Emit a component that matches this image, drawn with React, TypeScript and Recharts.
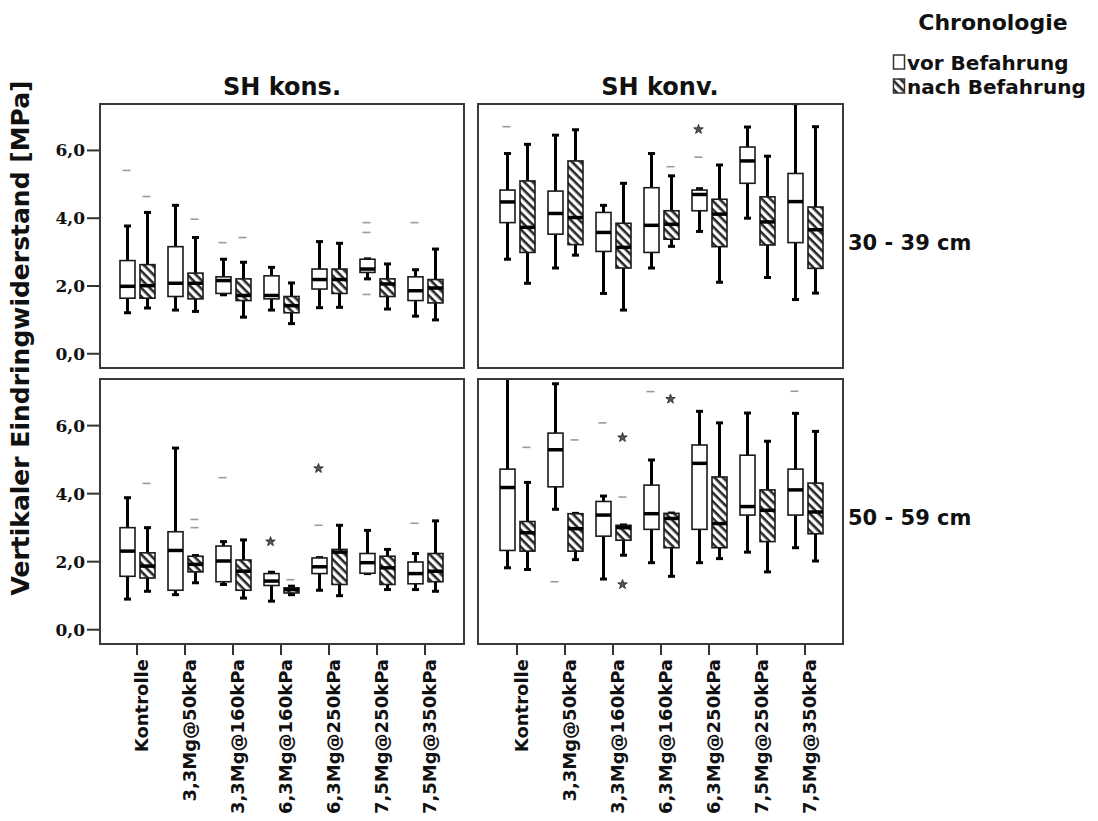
import { ComposedChart, Bar, Scatter, XAxis, YAxis } from 'recharts'

const categories = [
  'Kontrolle',
  '3,3Mg@50kPa',
  '3,3Mg@160kPa',
  '6,3Mg@160kPa',
  '6,3Mg@250kPa',
  '7,5Mg@250kPa',
  '7,5Mg@350kPa',
]
const yTicks = [0, 2, 4, 6]
const yDomain = [-0.42, 7.37]

// [min, q1, median, q3, max] in MPa
const konsTopVor = [
  [1.21, 1.64, 1.99, 2.75, 3.77],
  [1.29, 1.69, 2.08, 3.16, 4.38],
  [1.74, 1.78, 2.16, 2.27, 2.79],
  [1.29, 1.62, 1.72, 2.3, 2.55],
  [1.36, 1.91, 2.19, 2.5, 3.31],
  [2.21, 2.4, 2.5, 2.79, 2.8],
  [1.11, 1.57, 1.86, 2.27, 2.48],
]
const konsTopNach = [
  [1.35, 1.64, 2.01, 2.63, 4.17],
  [1.25, 1.62, 2.08, 2.38, 3.43],
  [1.08, 1.57, 1.72, 2.21, 2.7],
  [0.89, 1.21, 1.42, 1.69, 2.09],
  [1.37, 1.78, 2.19, 2.5, 3.26],
  [1.32, 1.69, 2.06, 2.21, 2.65],
  [1.0, 1.5, 1.94, 2.19, 3.09],
]
const konvTopVor = [
  [2.79, 3.87, 4.48, 4.83, 5.91],
  [2.53, 3.53, 4.14, 4.8, 6.45],
  [1.78, 3.02, 3.58, 4.17, 4.38],
  [2.53, 2.99, 3.79, 4.9, 5.91],
  [3.61, 4.22, 4.7, 4.83, 4.87],
  [4.0, 5.03, 5.69, 6.1, 6.69],
  [1.6, 3.28, 4.49, 5.32, 7.38],
]
const konvTopNach = [
  [2.08, 2.99, 3.73, 5.1, 6.18],
  [2.91, 3.22, 4.02, 5.69, 6.61],
  [1.29, 2.53, 3.14, 3.85, 5.03],
  [3.17, 3.38, 3.82, 4.22, 5.25],
  [2.11, 3.16, 4.12, 4.56, 5.57],
  [2.25, 3.21, 3.89, 4.63, 5.83],
  [1.79, 2.52, 3.66, 4.33, 6.7],
]
const konsBotVor = [
  [0.9, 1.57, 2.31, 3.0, 3.88],
  [1.03, 1.16, 2.33, 2.88, 5.34],
  [1.33, 1.41, 2.02, 2.46, 2.59],
  [0.84, 1.3, 1.43, 1.65, 1.69],
  [1.16, 1.65, 1.85, 2.11, 2.12],
  [1.65, 1.66, 1.97, 2.24, 2.92],
  [1.18, 1.35, 1.65, 1.99, 2.24],
]
const konsBotNach = [
  [1.13, 1.52, 1.87, 2.26, 3.0],
  [1.38, 1.7, 1.92, 2.16, 2.18],
  [0.93, 1.16, 1.72, 2.05, 2.64],
  [1.03, 1.08, 1.18, 1.23, 1.28],
  [1.0, 1.33, 2.28, 2.36, 3.07],
  [1.18, 1.33, 1.82, 2.16, 2.36],
  [1.13, 1.41, 1.72, 2.24, 3.2],
]
const konvBotVor = [
  [1.82, 2.33, 4.18, 4.72, 7.4],
  [3.54, 4.2, 5.29, 5.78, 7.23],
  [1.49, 2.75, 3.37, 3.77, 3.93],
  [1.97, 2.95, 3.41, 4.25, 4.99],
  [1.97, 2.95, 4.89, 5.43, 6.42],
  [2.28, 3.37, 3.62, 5.13, 6.37],
  [2.41, 3.37, 4.11, 4.72, 6.36],
]
const konvBotNach = [
  [1.77, 2.31, 2.85, 3.18, 4.33],
  [2.06, 2.31, 2.97, 3.41, 3.42],
  [2.19, 2.63, 3.0, 3.07, 3.08],
  [1.57, 2.41, 3.27, 3.42, 3.43],
  [2.09, 2.41, 3.12, 4.49, 6.08],
  [1.7, 2.59, 3.51, 4.11, 5.54],
  [2.02, 2.82, 3.46, 4.31, 5.83],
]

// [category index, value, series, kind]  'o' = outlier, '*' = extreme
const konsTopOut = [
  [0, 5.41, 'vor', 'o'], [2, 3.28, 'vor', 'o'], [5, 3.87, 'vor', 'o'], [5, 3.58, 'vor', 'o'],
  [5, 1.75, 'vor', 'o'], [6, 3.87, 'vor', 'o'],
  [0, 4.64, 'nach', 'o'], [1, 3.97, 'nach', 'o'], [2, 3.43, 'nach', 'o'],
]
const konvTopOut = [
  [0, 6.7, 'vor', 'o'], [4, 5.8, 'vor', 'o'], [4, 6.62, 'vor', '*'],
  [3, 5.52, 'nach', 'o'],
]
const konsBotOut = [
  [2, 4.47, 'vor', 'o'], [4, 3.07, 'vor', 'o'], [6, 3.13, 'vor', 'o'],
  [3, 2.59, 'vor', '*'], [4, 4.74, 'vor', '*'],
  [0, 4.3, 'nach', 'o'], [1, 3.24, 'nach', 'o'], [1, 3.0, 'nach', 'o'], [3, 1.47, 'nach', 'o'],
]
const konvBotOut = [
  [1, 1.41, 'vor', 'o'], [2, 6.08, 'vor', 'o'], [3, 7.0, 'vor', 'o'], [6, 7.01, 'vor', 'o'],
  [0, 5.36, 'nach', 'o'], [1, 5.58, 'nach', 'o'], [2, 3.9, 'nach', 'o'],
  [2, 5.65, 'nach', '*'], [2, 1.33, 'nach', '*'], [3, 6.78, 'nach', '*'],
]

const SANS = 'DejaVu Sans, Verdana, sans-serif'
const SERIF = 'DejaVu Serif, serif'

const range = (key: 'vor' | 'nach') => (d: any) => (d && d[key] ? [d[key][0], d[key][4]] : null)

const boxShape = (key: 'vor' | 'nach') => (p: any) => {
  const five = p.payload && p.payload[key]
  if (!five || p.y == null) return <g />
  const [mn, q1, md, q3, mx] = five
  const top = Math.min(p.y, p.y + p.height)
  const bot = Math.max(p.y, p.y + p.height)
  const py = (v: number) => (mx === mn ? bot : bot - ((v - mn) / (mx - mn)) * (bot - top))
  const cx = p.x + p.width / 2
  const y1 = py(q1)
  const y3 = py(q3)
  const ym = py(md)
  return (
    <g>
      <line x1={cx} x2={cx} y1={top} y2={y3} stroke="#000" strokeWidth={3} />
      <line x1={cx} x2={cx} y1={y1} y2={bot} stroke="#000" strokeWidth={3} />
      <line x1={cx - 3.5} x2={cx + 3.5} y1={top} y2={top} stroke="#000" strokeWidth={3} />
      <line x1={cx - 3.5} x2={cx + 3.5} y1={bot} y2={bot} stroke="#000" strokeWidth={3} />
      <rect x={p.x} y={y3} width={p.width} height={Math.max(y1 - y3, 1)}
        fill={key === 'vor' ? '#fff' : 'url(#hatch)'} stroke="#1a1a1a" strokeWidth={1.6} />
      <line x1={p.x} x2={p.x + p.width} y1={ym} y2={ym} stroke="#000" strokeWidth={3.5} />
    </g>
  )
}

const markShape = (p: any) => {
  if (p.cx == null || p.cy == null || !p.payload) return <g />
  const x = p.cx + (p.payload.s === 'vor' ? -10.5 : 9.5)
  const y = p.cy
  if (p.payload.k === '*') {
    const pts = []
    for (let j = 0; j < 10; j++) {
      const r = j % 2 === 0 ? 5 : 2
      const a = -Math.PI / 2 + (j * Math.PI) / 5
      pts.push(`${x + r * Math.cos(a)},${y + r * Math.sin(a)}`)
    }
    return <polygon points={pts.join(' ')} fill="#555" stroke="#222" strokeWidth={0.8} />
  }
  return <line x1={x - 4} x2={x + 4} y1={y} y2={y} stroke="#9a9a9a" strokeWidth={1.6} />
}

const XTick = (p: any) => (
  <text transform={`translate(${p.x + 11},${p.y}) rotate(-90)`} textAnchor="end"
    fontFamily={SANS} fontWeight="bold" fontSize={18} fill="#111">
    {p.payload.value}
  </text>
)

interface PanelProps {
  vor: number[][];
  nach: number[][];
  out: any[];
  left: number;
  top: number;
  showX: boolean;
  showY: boolean;
}

const Panel = ({ vor, nach, out, left, top, showX, showY }: PanelProps) => {
  const rows = categories.map((cat, i) => ({ cat, vor: vor[i], nach: nach[i] }))
  const marks = out.map(([i, v, s, k]) => ({ i, v, s, k }))
  const yW = showY ? 60 : 0
  const mRight = showY ? 6 : 3
  const plotW = showY ? 364 : 365
  const plotH = showX ? 265 : 264
  const xH = showX ? 176 : 0
  const width = yW + plotW + mRight
  const height = 4 + plotH + (showX ? xH : 4)
  const pad = showY ? { left: 13, right: 15 } : { left: 15, right: 14 }
  return (
    <div style={{ position: 'absolute', left, top }}>
      <ComposedChart width={width} height={height} data={rows} barSize={15} barGap={5}
        margin={{ top: 4, right: mRight, bottom: showX ? 0 : 4, left: 0 }}>
        <XAxis dataKey="cat" type="category" hide={!showX} height={xH} padding={pad}
          axisLine={false} tickSize={11} tickMargin={4} interval={0}
          tickLine={{ stroke: '#333', strokeWidth: 2 }} tick={<XTick />} />
        <XAxis xAxisId="n" dataKey="i" type="number" domain={[-0.5, 6.5]} allowDataOverflow hide padding={pad} />
        <YAxis type="number" domain={yDomain} allowDataOverflow ticks={yTicks} hide={!showY} width={yW}
          axisLine={false} tickSize={13} tickMargin={2} tickLine={{ stroke: '#333', strokeWidth: 2 }}
          tickFormatter={(v: number) => v.toFixed(1).replace('.', ',')}
          tick={{ fontFamily: SERIF, fontWeight: 'bold', fontSize: 17, fill: '#111' }} />
        <YAxis yAxisId="s" type="number" domain={yDomain} allowDataOverflow hide />
        <Bar dataKey={range('vor')} isAnimationActive={false} shape={boxShape('vor')} />
        <Bar dataKey={range('nach')} isAnimationActive={false} shape={boxShape('nach')} />
        <Scatter data={marks} dataKey="v" xAxisId="n" yAxisId="s" isAnimationActive={false} shape={markShape} />
      </ComposedChart>
      <div style={{
        position: 'absolute', left: yW - 1, top: 3, width: plotW + 2, height: plotH + 2,
        border: '2px solid #3a3a3a', boxSizing: 'border-box', pointerEvents: 'none',
      }} />
    </div>
  )
}

export default function App() {
  return (
    <div style={{ position: 'absolute', left: 0, top: 0, width: 1098, height: 821, background: '#fff', overflow: 'hidden' }}>
      <svg width={1098} height={821} style={{ position: 'absolute', left: 0, top: 0 }}>
        <defs>
          <pattern id="hatch" patternUnits="userSpaceOnUse" width="6" height="6" patternTransform="rotate(45)">
            <rect width="6" height="6" fill="#fff" />
            <rect width="6" height="2.6" fill="#2a2a2a" />
          </pattern>
        </defs>
        <g fontFamily={SANS} fontWeight="bold" fill="#111">
          <text x={282} y={95} fontSize={24} textAnchor="middle">SH kons.</text>
          <text x={660} y={95} fontSize={24} textAnchor="middle">SH konv.</text>
          <text x={848} y={250} fontSize={21}>30 - 39 cm</text>
          <text x={848} y={525} fontSize={21}>50 - 59 cm</text>
          <text transform="translate(29,338) rotate(-90)" fontSize={25} textAnchor="middle">
            Vertikaler Eindringwiderstand [MPa]
          </text>
          <text x={993} y={30} fontSize={22} textAnchor="middle">Chronologie</text>
          <text x={907} y={70} fontSize={20}>vor Befahrung</text>
          <text x={907} y={94} fontSize={20}>nach Befahrung</text>
        </g>
        <rect x={893.5} y={55} width={11} height={14} fill="#fff" stroke="#333" strokeWidth={1.5} />
        <rect x={893.5} y={79} width={11} height={14} fill="url(#hatch)" stroke="#333" strokeWidth={1.5} />
      </svg>
      <Panel vor={konsTopVor} nach={konsTopNach} out={konsTopOut} left={40} top={100} showX={false} showY />
      <Panel vor={konvTopVor} nach={konvTopNach} out={konvTopOut} left={478} top={100} showX={false} showY={false} />
      <Panel vor={konsBotVor} nach={konsBotNach} out={konsBotOut} left={40} top={375} showX showY />
      <Panel vor={konvBotVor} nach={konvBotNach} out={konvBotOut} left={478} top={375} showX showY={false} />
    </div>
  )
}
